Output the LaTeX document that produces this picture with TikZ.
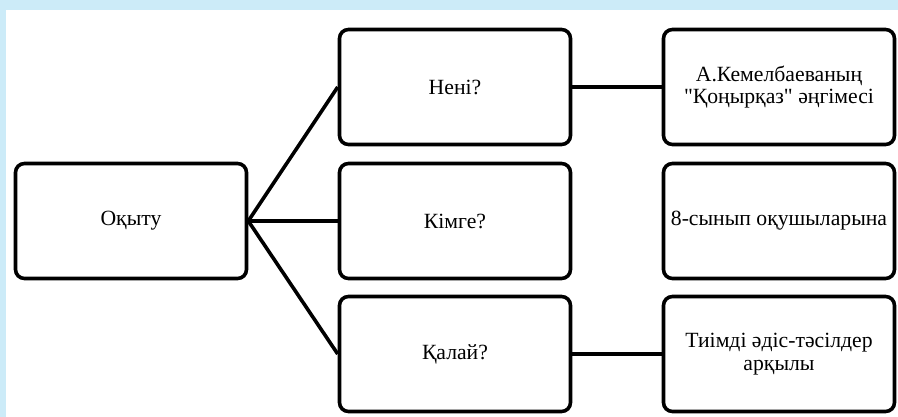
\documentclass[tikz,border=0pt]{standalone}
\usepackage{fontspec}
\newfontfamily\boxfont{Liberation Serif}
\usepackage{tikz}
\definecolor{frameblue}{RGB}{204,235,248}
\tikzset{qbox/.style={draw=black,line width=3.6pt,rounded corners=9pt,minimum width=231pt,minimum height=115pt,align=center,font=\boxfont\fontsize{21.7}{22.7}\selectfont}}

\begin{document}
\begin{tikzpicture}[x=1pt,y=-1pt]
        \fill [frameblue] (0,0) rectangle (898,417);
        \fill [white] (6,10) rectangle (898,417);
        \node (teach) at (131,221) [qbox] {Оқыту};
        \node (what) at (455,87) [qbox] {Нені?};
        \node (whom) at (455,221) [qbox] {Кімге?};
        \node (how) at (455,354) [qbox] {Қалай?};
        \node (story) at (779,87) [qbox] {А.Кемелбаеваның\\"Қоңырқаз" әңгімесі};
        \node (pupils) at (779,221) [qbox] {8-сынып оқушыларына};
        \node (method) at (779,354) [qbox] {Тиімді әдіс-тәсілдер\\арқылы};
        \draw [line width=3.6pt] (teach.east)--(what.west);
        \draw [line width=3.6pt] (teach.east)--(whom.west);
        \draw [line width=3.6pt] (teach.east)--(how.west);
        \draw [line width=3.6pt] (what)--(story);
        \draw [line width=3.6pt] (how)--(method);
      \end{tikzpicture}
\end{document}
